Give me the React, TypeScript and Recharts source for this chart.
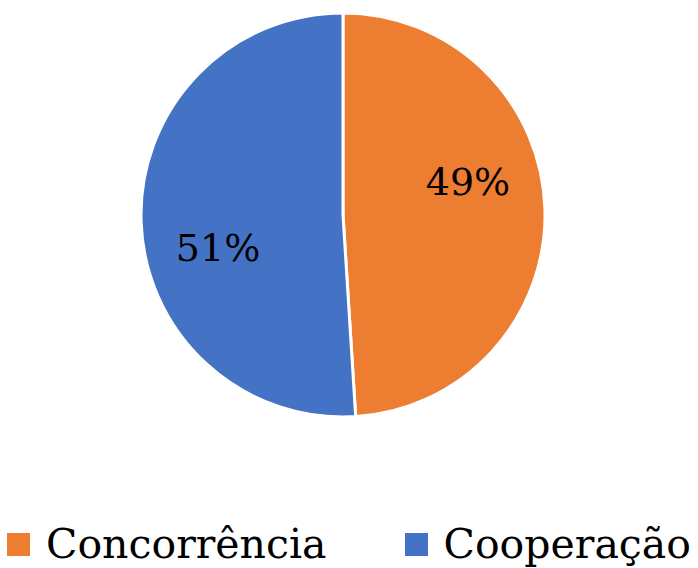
import { PieChart, Pie, Cell, Legend } from "recharts";

const categories = ["Concorrência", "Cooperação"];
const shares = [49, 51];
const colors = ["#ED7D31", "#4472C4"];

const data = categories.map((name, i) => ({ name, value: shares[i] }));

const RADIAN = Math.PI / 180;

function renderLabel(props: any) {
  const { cx, cy, midAngle, outerRadius, value } = props;
  // Excel "best fit" puts the labels a bit above the slice midline
  const angle = (midAngle + 13) * RADIAN;
  const r = outerRadius * 0.64;
  const x = cx + r * Math.cos(angle);
  const y = cy - r * Math.sin(angle);
  return (
    <text
      x={x}
      y={y}
      textAnchor="middle"
      dominantBaseline="central"
      fill="#000"
      fontFamily="'DejaVu Serif', serif"
      fontSize={38}
    >
      {value}%
    </text>
  );
}

function renderLegend() {
  return (
    <div
      style={{
        display: "flex",
        justifyContent: "center",
        alignItems: "center",
        gap: 78,
        fontFamily: "'DejaVu Serif', serif",
        fontSize: 41,
        color: "#000",
      }}
    >
      {categories.map((c, i) => (
        <div key={c} style={{ display: "flex", alignItems: "center" }}>
          <span
            style={{
              display: "inline-block",
              width: 23,
              height: 23,
              background: colors[i],
              marginRight: 16,
            }}
          />
          <span>{c}</span>
        </div>
      ))}
    </div>
  );
}

export default function App() {
  return (
    <div style={{ position: "absolute", left: 0, top: 0, background: "#fff" }}>
      <PieChart width={698} height={568} margin={{ top: 0, right: 0, bottom: 0, left: 0 }}>
        <Pie
          data={data}
          dataKey="value"
          nameKey="name"
          cx={343}
          cy={215}
          outerRadius={202}
          startAngle={90}
          endAngle={-270}
          stroke="#fff"
          strokeWidth={3}
          label={renderLabel}
          labelLine={false}
          isAnimationActive={false}
        >
          {data.map((d, i) => (
            <Cell key={d.name} fill={colors[i]} />
          ))}
        </Pie>
        <Legend verticalAlign="bottom" content={renderLegend} wrapperStyle={{ bottom: 0 }} />
      </PieChart>
    </div>
  );
}
